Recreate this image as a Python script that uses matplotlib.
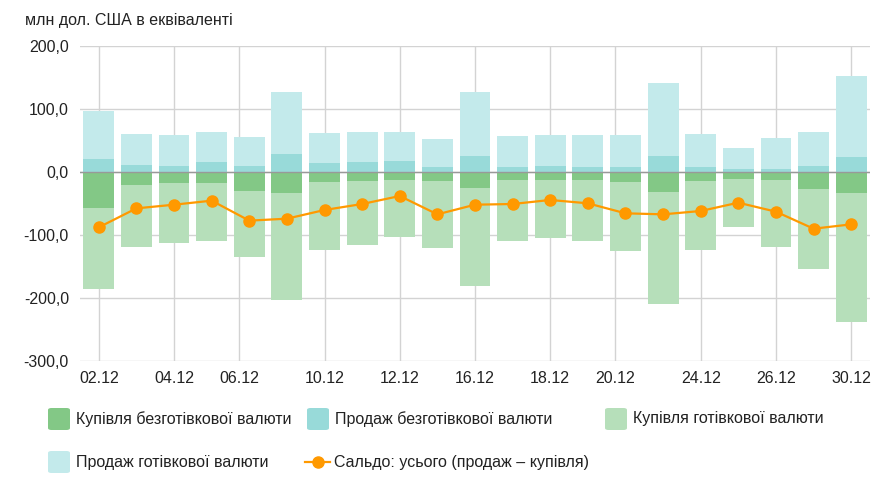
import matplotlib.pyplot as plt
from matplotlib.patches import FancyBboxPatch
from matplotlib.lines import Line2D
import numpy as np

# Data (млн дол. США в еквіваленті)
dates = ["02.12", "03.12", "04.12", "05.12", "06.12", "09.12", "10.12", "11.12",
         "12.12", "13.12", "16.12", "17.12", "18.12", "19.12", "20.12", "23.12",
         "24.12", "25.12", "26.12", "27.12", "30.12"]
noncash_sell = [20.6, 11.1, 10.0, 15.4, 9.5, 28.6, 14.3, 16.4, 17.5, 7.9, 25.9,
                8.4, 10.0, 8.4, 8.4, 25.9, 8.4, 5.3, 5.3, 10.0, 23.8]
cash_sell = [76.2, 49.2, 48.7, 48.1, 46.6, 98.9, 47.6, 47.1, 46.0, 44.5, 101.1,
             48.7, 49.3, 49.8, 50.3, 115.8, 51.9, 33.3, 49.2, 54.0, 129.2]
noncash_buy = [-56.6, -20.6, -18.0, -18.0, -30.7, -33.3, -15.3, -14.3, -12.7, -14.3, -25.4,
               -12.2, -13.2, -13.2, -15.3, -31.7, -14.3, -11.1, -12.2, -27.0, -33.3]
cash_buy = [-129.1, -98.4, -94.2, -91.5, -103.7, -169.3, -108.0, -101.0, -90.5, -105.8, -155.0,
            -96.8, -91.6, -95.8, -109.6, -178.3, -109.0, -76.7, -106.3, -127.5, -204.3]
balance = [-87.8, -57.7, -51.9, -45.5, -77.2, -74.1, -60.3, -50.8, -38.1, -67.2, -51.9,
           -50.8, -44.4, -49.7, -65.6, -67.2, -61.9, -48.7, -63.0, -90.0, -83.1]
tick_labels = ["02.12", "04.12", "06.12", "10.12", "12.12", "16.12", "18.12",
               "20.12", "24.12", "26.12", "30.12"]
y_ticks = [-300, -200, -100, 0, 100, 200]

labels = ["Купівля безготівкової валюти", "Продаж безготівкової валюти",
          "Купівля готівкової валюти", "Продаж готівкової валюти",
          "Сальдо: усього (продаж – купівля)"]
colors = ["#83c886", "#98dad9", "#b6dfba", "#c3eaeb"]
orange = "#ff9900"

plt.rcParams["font.family"] = ["Liberation Sans", "DejaVu Sans"]

fig = plt.figure(figsize=(8.91, 5.0), dpi=100)
ax = fig.add_axes([80 / 891, 1 - 361 / 500, 790 / 891, 315 / 500])

x = np.arange(len(dates))
w = 0.82
ax.bar(x, noncash_sell, w, color=colors[1], zorder=2)
ax.bar(x, cash_sell, w, bottom=noncash_sell, color=colors[3], zorder=2)
ax.bar(x, noncash_buy, w, color=colors[0], zorder=2)
ax.bar(x, cash_buy, w, bottom=noncash_buy, color=colors[2], zorder=2)
ax.plot(x, balance, color=orange, lw=1.6, marker="o", ms=8, zorder=4)

ax.axhline(0, color="#999999", lw=1, zorder=3)

# tick positions: category index, two labels sit slightly left in the original
tick_pos = []
for t in tick_labels:
    p = dates.index(t)
    if t in ("06.12", "20.12"):
        p -= 0.27
    tick_pos.append(p)
ax.set_xticks(tick_pos)
ax.set_xticklabels(tick_labels, fontsize=11.5, color="#222222")
ax.set_xlim(-0.5, len(dates) - 0.5)
ax.set_ylim(-300, 200)
ax.set_yticks(y_ticks)
ax.set_yticklabels([f"{v:.1f}".replace(".", ",") for v in y_ticks], fontsize=11.5, color="#222222")
ax.tick_params(length=0, pad=8)
ax.tick_params(axis="x", pad=7)
ax.grid(True, color="#d3d3d3", lw=1, zorder=0)
for s in ax.spines.values():
    s.set_visible(False)
ax.set_axisbelow(True)

fig.text(25 / 891, 1 - 21 / 500, "млн дол. США в еквіваленті", fontsize=11.5,
         va="center", ha="left", color="#222222")

# legend drawn by hand
def box(px, py, color):
    fig.patches.append(FancyBboxPatch((px / 891, 1 - (py + 11) / 500), 22 / 891, 22 / 500,
                                      boxstyle="round,pad=0,rounding_size=0.004",
                                      transform=fig.transFigure, facecolor=color,
                                      edgecolor="none"))

legend_items = [(48, 419, 0), (307, 419, 1), (605, 419, 2), (48, 462, 3)]
for px, py, i in legend_items:
    box(px, py, colors[i])
    fig.text((px + 28) / 891, 1 - py / 500, labels[i], fontsize=11.5, va="center",
             ha="left", color="#222222")

fig.lines.append(Line2D([305 / 891, 330 / 891], [1 - 462 / 500, 1 - 462 / 500],
                        transform=fig.transFigure, color=orange, lw=1.6))
fig.lines.append(Line2D([317.5 / 891], [1 - 462 / 500], transform=fig.transFigure,
                        color=orange, marker="o", ms=8))
fig.text(334 / 891, 1 - 462 / 500, labels[4], fontsize=11.5, va="center", ha="left",
         color="#222222")

fig.savefig("out.png", dpi=100)
